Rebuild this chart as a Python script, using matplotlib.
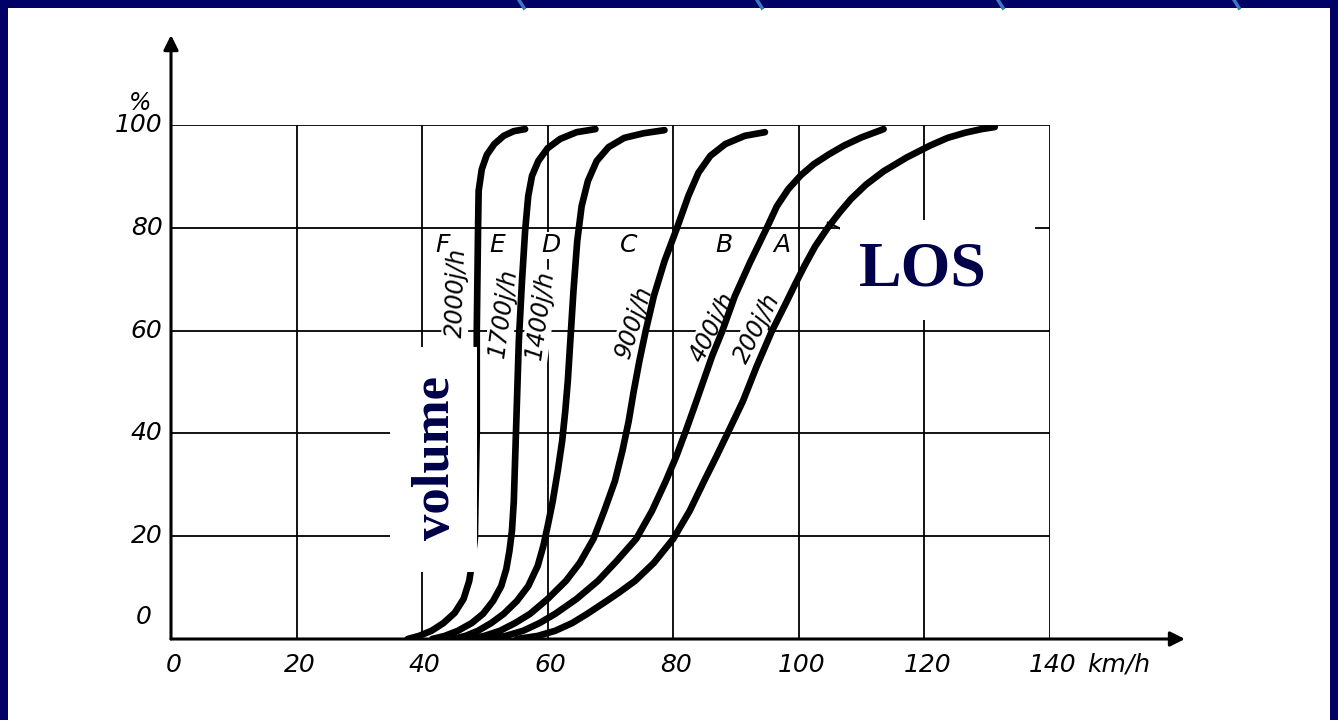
import matplotlib
matplotlib.use('Agg')
import matplotlib.pyplot as plt
from matplotlib.patches import Rectangle
from matplotlib.lines import Line2D

# Speed distribution curves, speed in km/h vs cumulative percent.
speed_F = [37.7, 39.5, 41.5, 43.4, 45.2, 46.6, 47.5, 48.0, 48.4, 48.5, 48.7, 48.7, 48.9, 49.0,
           49.5, 50.3, 51.5, 53.0, 54.6, 56.4]
pct_F = [0, 0.6, 1.6, 3.1, 5.1, 7.8, 11.3, 15.2, 19.5, 26.8, 40.5, 59.9, 79.4, 87.2,
         91.4, 94.2, 96.3, 97.9, 98.8, 99.2]

speed_E = [41.6, 43.6, 45.7, 47.9, 49.7, 51.3, 52.6, 53.4, 53.9, 54.3, 54.6, 54.8, 55.1, 55.4,
           55.9, 56.4, 56.9, 57.5, 58.5, 60.0, 62.0, 64.6, 67.6]
pct_E = [0, 0.6, 1.6, 3.1, 4.9, 7.4, 10.3, 13.6, 17.1, 21.0, 26.8, 34.6, 46.3, 58.0,
         69.6, 79.4, 86.2, 90.1, 93.0, 95.5, 97.3, 98.6, 99.2]

speed_D = [44.8, 46.9, 48.9, 51.0, 53.0, 55.1, 56.9, 58.4, 59.3, 60.0, 60.8, 61.6, 62.3, 62.8,
           63.2, 63.6, 64.1, 64.7, 65.4, 66.4, 67.8, 69.7, 72.2, 75.3, 78.6]
pct_D = [0, 0.6, 1.6, 3.1, 4.9, 7.4, 10.3, 14.2, 18.1, 22.0, 26.8, 32.7, 38.5, 44.4,
         50.2, 58.0, 67.7, 77.4, 84.2, 89.1, 93.0, 95.7, 97.5, 98.4, 99.0]

speed_C = [47.5, 49.9, 52.4, 54.8, 57.2, 60.0, 62.9, 65.1, 67.3, 69.0, 70.7, 71.9, 72.9, 73.7,
           74.6, 75.6, 76.9, 78.6, 80.6, 82.4, 84.0, 85.9, 88.3, 91.4, 94.6]
pct_C = [0, 0.6, 1.6, 3.1, 4.9, 7.8, 11.3, 14.8, 19.5, 24.9, 30.7, 36.6, 42.4, 48.2,
         54.1, 59.9, 66.7, 73.5, 80.0, 86.2, 90.7, 94.0, 96.3, 97.9, 98.6]

speed_B = [50.5, 53.3, 56.1, 58.7, 61.2, 64.6, 68.0, 71.0, 74.1, 76.6, 78.8, 80.5, 82.0, 83.4,
           84.8, 86.2, 87.8, 89.8, 92.2, 94.9, 96.5, 98.3, 100.3, 102.4, 104.8, 107.2, 110.0, 113.5]
pct_B = [0, 0.6, 1.6, 3.1, 4.9, 7.8, 11.3, 15.2, 19.5, 24.9, 30.7, 35.6, 40.5, 45.3,
         50.2, 55.1, 59.9, 66.7, 73.2, 80.0, 84.2, 87.5, 90.2, 92.4, 94.3, 96.0, 97.6, 99.2]

speed_A = [55.1, 58.4, 61.2, 63.9, 66.3, 68.9, 71.2, 73.9, 76.9, 80.0, 82.6, 84.9, 86.9, 88.6,
           91.1, 93.3, 95.7, 97.8, 99.4, 100.9, 102.6, 104.6, 106.5, 108.3, 110.7, 113.5,
           117.2, 120.9, 123.7, 126.5, 129.1, 131.2]
pct_A = [0, 0.6, 1.6, 3.1, 4.9, 7.0, 8.9, 11.3, 14.8, 19.5, 24.9, 30.7, 35.6, 39.9,
         46.3, 53.1, 59.9, 65.0, 69.0, 72.6, 76.4, 80.0, 83.0, 85.6, 88.4, 91.0,
         93.7, 96.0, 97.5, 98.5, 99.2, 99.6]

los_letters = ['F', 'E', 'D', 'C', 'B', 'A']
volume_labels = ['2000j/h', '1700j/h', '1400j/h', '900j/h', '400j/h', '200j/h']

x_ticks = [0, 20, 40, 60, 80, 100, 120, 140]
y_ticks = [0, 20, 40, 60, 80, 100]

NAVY = '#000066'
TEXT_NAVY = '#00004a'
HAND = dict(family='DejaVu Sans', style='italic', color='black')

fig = plt.figure(figsize=(13.38, 7.2), dpi=100, facecolor=NAVY)

# white sheet inside the navy frame
fig.add_artist(Rectangle((8 / 1338, 0), 1322 / 1338, 712 / 720, transform=fig.transFigure,
                         facecolor='white', edgecolor='none', zorder=-1))

# light blue strokes in the top band
for x0 in [519, 757, 998, 1234]:
    fig.add_artist(Line2D([x0 / 1338, (x0 + 5) / 1338], [1.0, 712 / 720], transform=fig.transFigure,
                          color='#3a78c0', lw=2.5, zorder=-0.5))

ax = fig.add_axes([171 / 1338, 81 / 720, 879 / 1338, 514 / 720])
ax.set_facecolor('none')
ax.set_xlim(0, 140)
ax.set_ylim(0, 100)
for s in ax.spines.values():
    s.set_visible(False)
ax.set_xticks([])
ax.set_yticks([])

# grid
for yv in y_ticks[1:]:
    ax.plot([0, 140], [yv, yv], color='black', lw=1.3, zorder=1)
for xv in x_ticks[1:]:
    ax.plot([xv, xv], [0, 100], color='black', lw=1.3, zorder=1)

# axes with arrows
ax.annotate('', xy=(161.5, 0), xytext=(0, 0), annotation_clip=False,
            arrowprops=dict(arrowstyle='-|>', lw=2.2, color='black', mutation_scale=22, shrinkA=0, shrinkB=0))
ax.annotate('', xy=(0, 117.5), xytext=(0, 0), annotation_clip=False,
            arrowprops=dict(arrowstyle='-|>', lw=2.2, color='black', mutation_scale=22, shrinkA=0, shrinkB=0))

# tick labels
for xv in x_ticks:
    ax.annotate(str(xv), (xv, 0), xytext=(2, -10), textcoords='offset points',
                ha='center', va='top', fontsize=18, annotation_clip=False, **HAND)
ax.annotate('km/h', (140, 0), xytext=(27, -10), textcoords='offset points',
            ha='left', va='top', fontsize=18, annotation_clip=False, **HAND)
for yv in y_ticks:
    off = (-14, 16) if yv == 0 else (-6, 0)
    ax.annotate(str(yv), (0, yv), xytext=off, textcoords='offset points',
                ha='right', va='center', fontsize=18, annotation_clip=False, **HAND)
ax.annotate('%', (0, 100), xytext=(-22, 16), textcoords='offset points',
            ha='center', va='center', fontsize=17, annotation_clip=False, **HAND)

# curves
curves = [(speed_F, pct_F), (speed_E, pct_E), (speed_D, pct_D),
          (speed_C, pct_C), (speed_B, pct_B), (speed_A, pct_A)]
for xs, ys in curves:
    ax.plot(xs, ys, color='black', lw=4.8, zorder=3,
            solid_capstyle='round', solid_joinstyle='round')

# LOS letters and volume labels
letter_pos = [(43.3, 76.6), (52.0, 76.6), (60.5, 76.6), (72.9, 76.6), (88.0, 76.6), (97.3, 76.6)]
for txt, (lx, ly) in zip(los_letters, letter_pos):
    ax.text(lx, ly, txt, ha='center', va='center', fontsize=18, zorder=2,
            bbox=dict(facecolor='white', edgecolor='none', pad=1), **HAND)

vol_pos = [(45.4, 67.3, 88), (52.9, 63.4, 82), (58.8, 63.0, 82),
           (73.7, 61.7, 72), (86.3, 60.7, 63), (93.3, 60.5, 63)]
for txt, (lx, ly, rot) in zip(volume_labels, vol_pos):
    ax.text(lx, ly, txt, ha='center', va='center', rotation=rot, rotation_mode='anchor',
            fontsize=17, zorder=2, bbox=dict(facecolor='white', edgecolor='none', pad=1), **HAND)

# pasted white boxes with the overlay words
fig.add_artist(Rectangle((390 / 1338, 1 - 572 / 720), 87 / 1338, 225 / 720, transform=fig.transFigure,
                         facecolor='white', edgecolor='none', zorder=5))
fig.text(436 / 1338, 1 - 458 / 720, 'volume', rotation=90, ha='center', va='center',
         fontsize=38, fontweight='bold', family='Liberation Serif', color=TEXT_NAVY, zorder=6)

fig.add_artist(Rectangle((840 / 1338, 1 - 320 / 720), 195 / 1338, 100 / 720, transform=fig.transFigure,
                         facecolor='white', edgecolor='none', zorder=5))
fig.text(923 / 1338, 1 - 270 / 720, 'LOS', ha='center', va='center',
         fontsize=46, fontweight='bold', family='Liberation Serif', color=TEXT_NAVY, zorder=6)
# small pointer from the LOS box to curve A
ax.plot([104.6, 107.0], [81.0, 79.6], color='black', lw=1.5, zorder=4)

fig.savefig('out.png', dpi=100, facecolor=fig.get_facecolor())
